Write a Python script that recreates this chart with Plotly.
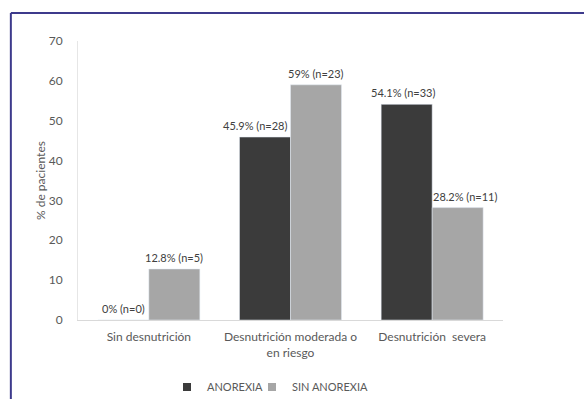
import plotly.graph_objects as go

categories = ["Sin desnutrición", "Desnutrición moderada o<br>en riesgo", "Desnutrición  severa"]
series_names = ["ANOREXIA", "SIN ANOREXIA"]
anorexia_pct = [0, 45.9, 54.1]
anorexia_n = [0, 28, 33]
sin_anorexia_pct = [12.8, 59, 28.2]
sin_anorexia_n = [5, 23, 11]
y_ticks = [0, 10, 20, 30, 40, 50, 60, 70]

colors = ["#3b3b3b", "#a6a6a6"]
font_family = "Lato, 'Open Sans', sans-serif"
text_color = "#595959"
bargap = 0.28
half_bar = (1 - bargap) / 4  # offset of each bar centre from the category centre
# small horizontal nudges (px) of the value labels, as placed in the original
anorexia_label_nudge = [0, -10, -4]
sin_anorexia_label_nudge = [0, 0, 7]

def labels(pcts, ns):
    return [f"{p:g}% (n={n})" for p, n in zip(pcts, ns)]

fig = go.Figure()
series = [
    (series_names[0], anorexia_pct, anorexia_n, colors[0], -half_bar, "legend", anorexia_label_nudge),
    (series_names[1], sin_anorexia_pct, sin_anorexia_n, colors[1], half_bar, "legend2", sin_anorexia_label_nudge),
]
for name, pcts, ns, col, off, leg, nudge in series:
    fig.add_trace(go.Bar(
        x=categories, y=pcts, name=name, marker_color=col, showlegend=False,
    ))
    fig.add_trace(go.Scatter(
        x=[None], y=[None], mode="markers", name=name,
        marker=dict(symbol="square", size=8, color=col),
        showlegend=True, legend=leg,
    ))
    # value labels drawn above every bar (annotations sit on top of all bars)
    for i, (txt, p) in enumerate(zip(labels(pcts, ns), pcts)):
        fig.add_annotation(
            x=i + off, y=p, xref="x", yref="y", text=txt, showarrow=False,
            yanchor="bottom", yshift=3, xshift=nudge[i],
            font=dict(size=11, color="#404040", family=font_family),
        )

legend_common = dict(orientation="h", xref="container", yref="container",
                     xanchor="left", y=1 - 387 / 399, yanchor="middle",
                     font=dict(size=11, color=text_color), itemwidth=30,
                     bgcolor="rgba(0,0,0,0)")

fig.update_layout(
    width=584, height=399,
    margin=dict(l=78, r=81, t=41, b=79, autoexpand=False),
    paper_bgcolor="white", plot_bgcolor="white",
    barmode="group", bargap=bargap, bargroupgap=0,
    font=dict(family=font_family, size=12, color=text_color),
    showlegend=True,
    legend=dict(x=167 / 584, **legend_common),
    legend2=dict(x=252 / 584, **legend_common),
    xaxis=dict(showline=True, linecolor="#d9d9d9", linewidth=1, showgrid=False,
               ticks="", tickfont=dict(size=12, color=text_color), ticklabelstandoff=6),
    yaxis=dict(range=[0, 70], tickvals=y_ticks, showline=True, linecolor="#e6e6e6",
               linewidth=1, showgrid=False, zeroline=False, ticks="",
               tickfont=dict(size=12, color=text_color), ticklabelstandoff=12,
               title=dict(text="% de pacientes", font=dict(size=12, color=text_color), standoff=0)),
)

# decorative frame around the figure (top and left edges)
border = "#3d3a8c"
fig.add_shape(type="line", xref="paper", yref="paper", x0=-0.158, x1=1.2, y0=1.1004, y1=1.1004,
              line=dict(color=border, width=2))
fig.add_shape(type="line", xref="paper", yref="paper", x0=-0.158, x1=-0.158, y0=1.1004, y1=-0.3,
              line=dict(color=border, width=2))

fig.write_html("out.html")
